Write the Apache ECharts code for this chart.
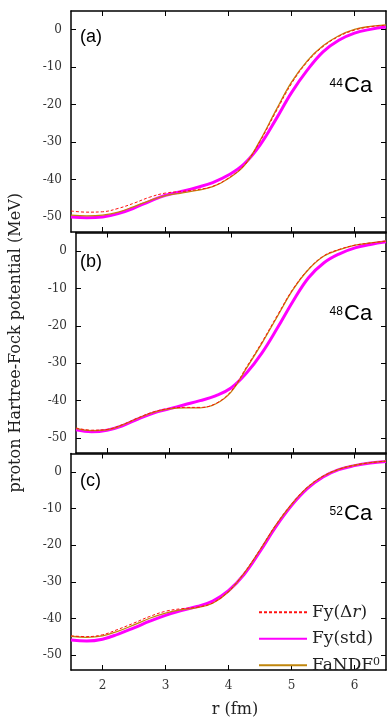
<!DOCTYPE html>
<html>
<head>
<meta charset="utf-8">
<script src="https://cdn.jsdelivr.net/npm/echarts@6/dist/echarts.min.js"></script>
<style>
  html, body { margin: 0; padding: 0; background: #fff; }
  #chart { width: 387px; height: 719px; }
</style>
</head>
<body>
<div id="chart"></div>
<script>
// radius grid (fm)
const r = [1.5, 1.75, 2.0, 2.25, 2.5, 2.75, 3.0, 3.25, 3.5, 3.75, 4.0,
           4.25, 4.5, 4.75, 5.0, 5.25, 5.5, 5.75, 6.0, 6.25, 6.5]

// (a) 44Ca
const dfA  = [-48.4, -48.7, -48.6, -47.7, -46.3, -44.7, -43.6, -43.2, -42.7, -41.8, -39.6,
              -36.2, -29.8, -22.0, -14.4, -8.6, -4.5, -1.8, -0.1, 0.8, 1.2]
const stdA = [-50.0, -50.2, -50.0, -49.1, -47.6, -45.8, -44.2, -43.2, -42.1, -40.8, -38.8,
              -35.8, -30.8, -24.0, -16.8, -10.8, -5.9, -2.8, -0.9, 0.1, 0.7]
const ndfA = [-49.5, -49.7, -49.5, -48.7, -47.2, -45.6, -44.3, -43.6, -42.9, -41.9, -39.7,
              -36.3, -29.6, -21.6, -14.0, -8.3, -4.3, -1.6, 0.1, 0.9, 1.3]

// (b) 48Ca
const dfB  = [-47.3, -47.9, -47.7, -46.4, -44.6, -43.0, -42.1, -41.8, -41.8, -40.8, -37.5,
              -31.0, -24.3, -17.1, -10.1, -4.8, -1.2, 0.5, 1.6, 2.2, 2.7]
const stdB = [-47.8, -48.3, -47.9, -46.7, -44.9, -43.3, -42.2, -41.1, -40.0, -38.7, -36.6,
              -32.6, -27.2, -20.5, -13.4, -7.1, -3.1, -0.7, 0.9, 1.8, 2.5]
const ndfB = [-47.4, -48.0, -47.8, -46.5, -44.7, -43.1, -42.2, -41.9, -41.9, -40.9, -37.7,
              -31.3, -24.6, -17.4, -10.3, -4.9, -1.3, 0.4, 1.6, 2.2, 2.7]

// (c) 52Ca
const dfC  = [-44.7, -44.9, -44.4, -42.9, -41.2, -39.4, -38.0, -37.3, -36.9, -35.7, -32.6,
              -27.5, -21.2, -14.5, -8.8, -4.2, -1.2, 0.7, 1.8, 2.5, 2.9]
const stdC = [-45.8, -46.1, -45.6, -44.2, -42.5, -40.7, -39.1, -37.8, -36.7, -35.2, -32.4,
              -27.9, -21.7, -15.0, -9.2, -4.6, -1.4, 0.6, 1.7, 2.4, 2.8]
const ndfC = [-44.8, -45.1, -44.7, -43.4, -41.7, -39.9, -38.5, -37.6, -37.0, -35.8, -32.7,
              -27.6, -21.3, -14.6, -8.9, -4.3, -1.2, 0.7, 1.8, 2.5, 2.9]

const xTicks = [2, 3, 4, 5, 6]
const yTicks = [-50, -40, -30, -20, -10, 0]
const panelNames = ['(a)', '(b)', '(c)']
const nuclei = ['44', '48', '52']

const panels = [
  { df: dfA, std: stdA, ndf: ndfA },
  { df: dfB, std: stdB, ndf: ndfB },
  { df: dfC, std: stdC, ndf: ndfC }
]

const serif = 'DejaVu Serif'
const sans = 'Liberation Sans'
const gridTops = [11, 232.5, 453.5]
const gridHeights = [221, 220.5, 221.5]

const zip = (ys) => r.map((x, i) => [x, ys[i]])

const frame = { show: true, onZero: false, lineStyle: { color: '#000', width: 1.5 } }

const grid = [], xAxis = [], yAxis = [], series = []
panels.forEach((p, i) => {
  grid.push({ left: 71, width: 315, top: gridTops[i], height: gridHeights[i] })
  const last = i === 2
  ;['bottom', 'top'].forEach((pos, k) => {
    xAxis.push({
      type: 'value', gridIndex: i, position: pos, min: 1.5, max: 6.5,
      axisLine: frame,
      axisTick: { inside: true, length: 5, customValues: xTicks, lineStyle: { color: '#000' } },
      axisLabel: {
        show: last && k === 0, customValues: xTicks, margin: 10,
        color: '#333', fontFamily: serif, fontSize: 12
      },
      splitLine: { show: false },
      name: last && k === 0 ? 'r (fm)' : '',
      nameLocation: 'middle', nameGap: 32,
      nameTextStyle: { fontFamily: serif, fontSize: 16, color: '#222', padding: [0, 0, 0, 13] }
    })
  })
  ;['left', 'right'].forEach((pos, k) => {
    yAxis.push({
      type: 'value', gridIndex: i, position: pos, min: -54, max: 5,
      axisLine: frame,
      axisTick: { inside: true, length: 5, customValues: yTicks, lineStyle: { color: '#000' } },
      axisLabel: {
        show: k === 0, customValues: yTicks, margin: 9,
        color: '#333', fontFamily: serif, fontSize: 12
      },
      splitLine: { show: false },
      name: i === 1 && k === 0 ? 'proton Hartree-Fock potential (MeV)' : '',
      nameLocation: 'middle', nameGap: 52,
      nameTextStyle: { fontFamily: serif, fontSize: 16, color: '#222' }
    })
  })
  const base = { type: 'line', xAxisIndex: 2 * i, yAxisIndex: 2 * i, showSymbol: false, symbol: 'none', smooth: 0.4 }
  series.push(
    { ...base, name: 'Fy(std)', data: zip(p.std), lineStyle: { color: '#ff00ff', width: 3 }, itemStyle: { color: '#ff00ff' } },
    { ...base, name: 'FaNDF0', data: zip(p.ndf), lineStyle: { color: '#c0860c', width: 1.3 }, itemStyle: { color: '#c0860c' } },
    { ...base, name: 'Fy(dr)', data: zip(p.df), lineStyle: { color: '#ff1010', width: 1, type: [3, 2] }, itemStyle: { color: '#ff1010' } }
  )
})

const graphic = []
panelNames.forEach((t, i) => {
  const mids = [36.7, 262.5, 481]
  graphic.push({ type: 'text', style: { text: t, x: 80, y: mids[i], verticalAlign: 'middle', font: '18px ' + sans, fill: '#000' } })
  const base = [97, 325, 525]
  graphic.push({ type: 'text', style: { text: 'Ca', x: 344, y: base[i], verticalAlign: 'bottom', font: '22px ' + sans, fill: '#000' } })
  graphic.push({ type: 'text', style: { text: nuclei[i], x: 329.5, y: base[i] - 19, verticalAlign: 'top', font: '12px ' + sans, fill: '#000' } })
})

const legendText = {
  'Fy(dr)': 'Fy(Δ{i|r})',
  'Fy(std)': 'Fy(std)',
  'FaNDF0': 'FaNDF{s|0}'
}

const chart = echarts.init(document.getElementById('chart'))
chart.setOption({
  animation: false,
  backgroundColor: '#fff',
  grid, xAxis, yAxis, series, graphic,
  legend: {
    data: ['Fy(dr)', 'Fy(std)', 'FaNDF0'],
    orient: 'vertical', left: 253, top: 598.7,
    itemWidth: 48, itemHeight: 14, itemGap: 9.5,
    itemStyle: { opacity: 0 },
    formatter: (n) => legendText[n],
    textStyle: {
      fontFamily: serif, fontSize: 17, color: '#222',
      rich: {
        i: { fontFamily: serif, fontStyle: 'italic', fontSize: 17, color: '#222' },
        s: { fontFamily: serif, fontSize: 11, color: '#222', verticalAlign: 'top', lineHeight: 17 }
      }
    }
  }
})
</script>
</body>
</html>
